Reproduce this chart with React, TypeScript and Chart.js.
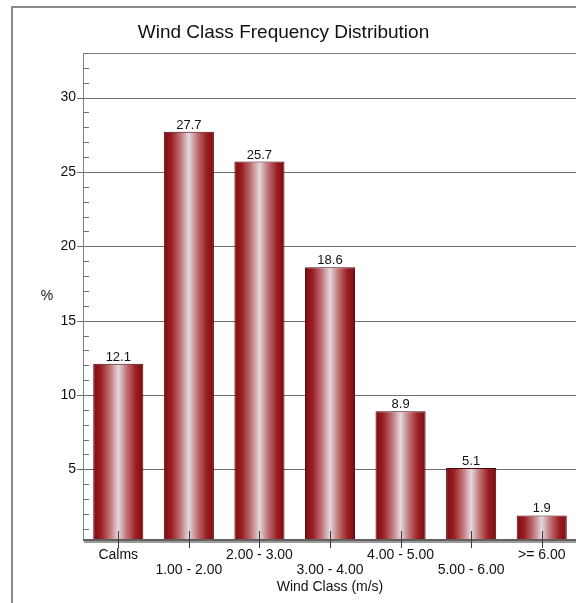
import React, { useEffect, useRef } from "react";
import { Chart, registerables } from "chart.js";

Chart.register(...registerables);

const categories = ["Calms", "1.00 - 2.00", "2.00 - 3.00", "3.00 - 4.00", "4.00 - 5.00", "5.00 - 6.00", ">= 6.00"];
const frequencies = [12.1, 27.7, 25.7, 18.6, 8.9, 5.1, 1.9];
const yMajorTicks = [5, 10, 15, 20, 25, 30];
const yMinorStep = 1;
const yMin = 0.25;
const yMax = 33;

const titleText = "Wind Class Frequency Distribution";
const xTitleText = "Wind Class (m/s)";
const yTitleText = "%";

const FONT = '"Liberation Sans", Arial, sans-serif';
const BAR_PCT = 0.71;

export default function App() {
  const ref = useRef<HTMLCanvasElement | null>(null);

  useEffect(() => {
    if (!ref.current) return;

    const decor = {
      id: "decor",
      beforeDraw(chart: any) {
        const c = chart.ctx;
        c.save();
        c.strokeStyle = "#8a8a8a";
        c.lineWidth = 2;
        c.beginPath();
        c.moveTo(12, 603);
        c.lineTo(12, 7);
        c.lineTo(600, 7);
        c.stroke();
        // title
        c.fillStyle = "#111";
        c.font = `19px ${FONT}`;
        c.textAlign = "center";
        c.textBaseline = "middle";
        c.fillText(titleText, 283.5, 33);
        // y title
        c.font = `14px ${FONT}`;
        c.fillText(yTitleText, 47, (chart.chartArea.top + chart.chartArea.bottom) / 2);
        // x title
        c.fillText(xTitleText, (chart.chartArea.left + chart.chartArea.right) / 2, 587);
        c.restore();
      },
      beforeDatasetsDraw(chart: any) {
        const c = chart.ctx;
        const a = chart.chartArea;
        const ys = chart.scales.y;
        c.save();
        // plot frame (top & left)
        c.strokeStyle = "#808080";
        c.lineWidth = 1;
        c.beginPath();
        c.moveTo(a.left + 0.5, a.bottom);
        c.lineTo(a.left + 0.5, a.top + 0.5);
        c.lineTo(a.right + 5, a.top + 0.5);
        c.stroke();
        // grid lines + major ticks
        c.strokeStyle = "#6e6e6e";
        c.beginPath();
        yMajorTicks.forEach((v) => {
          const y = Math.round(ys.getPixelForValue(v)) + 0.5;
          c.moveTo(a.left - 6, y);
          c.lineTo(a.right + 5, y);
        });
        c.stroke();
        // minor ticks (inside)
        c.strokeStyle = "#707070";
        c.beginPath();
        for (let v = Math.ceil(yMin); v <= yMax; v += yMinorStep) {
          if (yMajorTicks.includes(v)) continue;
          const y = Math.round(ys.getPixelForValue(v)) + 0.5;
          c.moveTo(a.left, y);
          c.lineTo(a.left + 6, y);
        }
        c.stroke();
        c.restore();
      },
      afterDatasetsDraw(chart: any) {
        const c = chart.ctx;
        const a = chart.chartArea;
        const xs = chart.scales.x;
        const meta = chart.getDatasetMeta(0);
        c.save();
        // value labels
        c.fillStyle = "#111";
        c.font = `13px ${FONT}`;
        c.textAlign = "center";
        c.textBaseline = "alphabetic";
        meta.data.forEach((el: any, i: number) => {
          c.fillText(String(frequencies[i].toFixed(1)), el.x, el.y - 3);
        });
        // x axis line
        c.strokeStyle = "#9a9a9a";
        c.lineWidth = 2;
        c.beginPath();
        c.moveTo(a.left + 1, a.bottom + 2);
        c.lineTo(a.right + 5, a.bottom + 2);
        c.stroke();
        c.strokeStyle = "#606060";
        c.lineWidth = 2;
        c.beginPath();
        c.moveTo(a.left, a.bottom);
        c.lineTo(a.right + 5, a.bottom);
        c.stroke();
        // x ticks
        c.strokeStyle = "#3a3a3a";
        c.lineWidth = 1;
        c.beginPath();
        categories.forEach((_, i) => {
          const x = Math.round(xs.getPixelForValue(i)) + 0.5;
          c.moveTo(x, a.bottom - 9);
          c.lineTo(x, a.bottom + 8);
        });
        c.stroke();
        c.restore();
      },
    };

    const chart = new Chart(ref.current, {
      type: "bar",
      data: {
        labels: categories,
        datasets: [
          {
            data: frequencies,
            borderColor: "#4a0508",
            borderWidth: 1,
            borderSkipped: false,
            backgroundColor: (ctx: any) => {
              const ch = ctx.chart;
              const xs = ch.scales && ch.scales.x;
              if (!ch.chartArea || !xs || ctx.dataIndex === undefined) return "#8b1a1a";
              const cx = xs.getPixelForValue(ctx.dataIndex);
              const w = (xs.width / categories.length) * BAR_PCT;
              const g = ch.ctx.createLinearGradient(cx - w / 2, 0, cx + w / 2, 0);
              g.addColorStop(0, "#7e0a0e");
              g.addColorStop(0.15, "#9a1e23");
              g.addColorStop(0.33, "#bf7276");
              g.addColorStop(0.5, "#e2d9de");
              g.addColorStop(0.67, "#bf7276");
              g.addColorStop(0.85, "#9a1e23");
              g.addColorStop(1, "#7e0a0e");
              return g;
            },
            barPercentage: BAR_PCT,
            categoryPercentage: 1,
          },
        ],
      },
      options: {
        animation: false,
        responsive: false,
        devicePixelRatio: 1,
        layout: { padding: { left: 0, top: 53, right: 3, bottom: 0 } },
        plugins: {
          legend: { display: false },
          title: { display: false },
          tooltip: { enabled: false },
        },
        scales: {
          x: {
            type: "category",
            grid: { display: false, drawTicks: false },
            border: { display: false },
            afterFit: (s: any) => {
              s.height = 63;
            },
            ticks: {
              autoSkip: false,
              maxRotation: 0,
              minRotation: 0,
              padding: 7.5,
              color: "#111",
              font: { family: FONT, size: 14, lineHeight: 1.07 },
              callback: (_v: any, i: number) => (i % 2 === 1 ? ["", categories[i]] : categories[i]),
            },
          },
          y: {
            type: "linear",
            min: yMin,
            max: yMax,
            grid: { display: false, drawTicks: false },
            border: { display: false },
            afterFit: (s: any) => {
              s.width = 83;
            },
            afterBuildTicks: (s: any) => {
              s.ticks = yMajorTicks.map((v) => ({ value: v }));
            },
            ticks: {
              padding: 7,
              color: "#111",
              font: { family: FONT, size: 14 },
              callback: (v: any) => String(v),
            },
          },
        },
      },
      plugins: [decor],
    });

    return () => chart.destroy();
  }, []);

  return (
    <div style={{ position: "absolute", left: 0, top: 0, width: 576, height: 603, overflow: "hidden", background: "#fff" }}>
      <canvas ref={ref} width={580} height={603} style={{ width: 580, height: 603, display: "block" }} />
    </div>
  );
}
